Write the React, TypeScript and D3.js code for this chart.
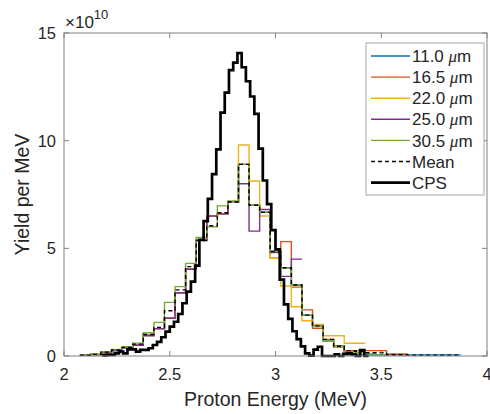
import React from "react";
import * as d3 from "d3";

// Wide-bin (0.05 MeV) series, bin centres (MeV)
const binCenters = [2.10, 2.15, 2.20, 2.25, 2.30, 2.35, 2.40, 2.45, 2.50, 2.55, 2.60, 2.65, 2.70, 2.75, 2.80, 2.85, 2.90, 2.95, 3.00, 3.05, 3.10, 3.15, 3.20, 3.25, 3.30, 3.35, 3.40, 3.45, 3.50, 3.55, 3.60, 3.65, 3.70, 3.75, 3.80, 3.85];

// values in units of 1e10 per MeV; null = no data
const s11_0 = [0.03, 0.07, 0.15, 0.25, 0.38, 0.5, 0.95, 1.27, 1.75, 2.94, 4.03, 5.4, 6.5, 6.6, 7.17, 8.9, 7.0, 6.7, 4.85, 4.1, 3.3, 1.9, 1.4, 0.7, 0.4, 0.05, 0.05, 0.05, 0.05, 0.05, 0.05, 0.05, 0.05, 0.05, 0.05, 0.05];
const s16_5 = [0.03, 0.07, 0.15, 0.25, 0.38, 0.5, 0.95, 1.27, 1.75, 2.94, 4.03, 5.4, 6.5, 6.6, 7.17, 8.9, 7.0, 6.7, 4.54, 5.31, 3.2, 2.14, 1.29, 0.77, 0.48, 0.25, 0.25, 0.25, 0.25, 0.09, 0.09, null, null, null, null, null];
const s22_0 = [0.03, 0.07, 0.15, 0.25, 0.38, 0.5, 0.95, 1.27, 1.75, 2.94, 4.03, 5.4, 6.5, 6.6, 7.17, 9.8, 8.13, 6.5, 4.54, 3.25, 2.29, 1.64, 1.47, 0.94, 0.94, 0.59, 0.59, null, null, null, null, null, null, null, null, null];
const s25_0 = [0.03, 0.07, 0.15, 0.25, 0.38, 0.5, 0.95, 1.27, 1.75, 2.94, 4.03, 5.4, 6.5, 6.6, 7.17, 8.0, 5.8, 6.8, 4.8, 3.7, 4.5, null, null, null, null, null, null, null, null, null, null, null, null, null, null, null];
const s30_5 = [0.04, 0.08, 0.2, 0.3, 0.43, 0.6, 1.08, 1.56, 2.49, 3.22, 4.3, 5.5, 6.0, 6.97, 7.2, 8.9, 7.0, 6.7, 4.85, 4.1, 3.3, 1.9, 1.4, 0.7, 0.4, 0.2, 0.15, 0.1, 0.05, null, null, null, null, null, null, null];
const meanVals = [0.035, 0.075, 0.18, 0.28, 0.4, 0.55, 1.0, 1.33, 2.1, 3.07, 4.15, 5.36, 6.05, 6.65, 7.15, 8.9, 7.0, 6.67, 4.85, 4.1, 3.3, 1.9, 1.4, 0.77, 0.45, 0.25, 0.22, 0.15, 0.15, 0.06, 0.06, 0.04, 0.04, 0.04, 0.04, 0.04];

// CPS (0.02 MeV bins), bin centres
const cpsEnergy = [2.19, 2.21, 2.23, 2.25, 2.27, 2.29, 2.31, 2.33, 2.35, 2.37, 2.39, 2.41, 2.43, 2.45, 2.47, 2.49, 2.51, 2.53, 2.55, 2.57, 2.59, 2.61, 2.63, 2.65, 2.67, 2.69, 2.71, 2.73, 2.75, 2.77, 2.79, 2.81, 2.83, 2.85, 2.87, 2.89, 2.91, 2.93, 2.95, 2.97, 2.99, 3.01, 3.03, 3.05, 3.07, 3.09, 3.11, 3.13, 3.15, 3.17, 3.19, 3.21, 3.23, 3.25, 3.27, 3.29, 3.31, 3.33, 3.35, 3.37, 3.39, 3.41, 3.43];
const cpsVals = [0.03, 0.05, 0.05, 0.12, 0.2, 0.12, 0.31, 0.31, 0.2, 0.28, 0.28, 0.36, 0.51, 0.66, 0.87, 1.13, 1.36, 1.59, 1.95, 2.45, 2.99, 3.45, 4.2, 5.39, 6.26, 7.3, 8.45, 9.6, 11.3, 12.23, 13.28, 13.62, 14.07, 13.41, 12.76, 12.05, 11.24, 9.63, 8.15, 7.05, 5.85, 4.95, 3.55, 2.4, 1.72, 1.15, 0.78, 0.45, 0.12, 0.02, 0.3, 0.43, 0, 0, 0, 0.08, 0, 0.1, 0.12, 0.08, 0, 0.27, 0];

const xTicks = [2, 2.5, 3, 3.5, 4];
const yTicks = [0, 5, 10, 15];

const seriesNames = ["11.0", "16.5", "22.0", "25.0", "30.5"];
const seriesColors = ["#0072BD", "#D95319", "#EDB120", "#7E2F8E", "#77AC30"];
const seriesData = [s11_0, s16_5, s22_0, s25_0, s30_5];

const W = 490, H = 414;
const L = 64, R = 487, T = 33, B = 356;
const FONT = "'Liberation Sans', Arial, Helvetica, sans-serif";

export default function App() {
  const x = d3.scaleLinear().domain([2, 4]).range([L, R]);
  const y = d3.scaleLinear().domain([0, 15]).range([B, T]);
  const line = d3.line<[number, number]>().x(d => x(d[0])).y(d => y(d[1])).curve(d3.curveStepAfter);

  const stepPath = (centers: number[], vals: (number | null)[], half: number) => {
    const pts: [number, number][] = [];
    let last: [number, number] | null = null;
    centers.forEach((c, i) => {
      const v = vals[i];
      if (v === null || v === undefined) return;
      pts.push([c - half, v]);
      last = [c + half, v];
    });
    if (last) pts.push(last);
    return line(pts) || "";
  };

  const axisColor = "#808080";
  const textColor = "#262626";
  const tickLen = 5;

  const legendRows = [
    ...seriesNames.map((n, i) => ({ label: n, color: seriesColors[i], dash: undefined as string | undefined, width: 1.4, mu: true })),
    { label: "Mean", color: "#000", dash: "4,3", width: 1.4, mu: false },
    { label: "CPS", color: "#000", dash: undefined, width: 2.7, mu: false },
  ];

  return (
    <svg width={W} height={H} style={{ position: "absolute", left: 0, top: 0, background: "#fff" }} fontFamily={FONT}>
      <rect x={0} y={0} width={W} height={H} fill="#fff" />
      {/* series */}
      <g fill="none" strokeLinejoin="miter">
        {seriesData.map((s, i) => (
          <path key={i} d={stepPath(binCenters, s, 0.025)} stroke={seriesColors[i]} strokeWidth={1.4} />
        ))}
        <path d={stepPath(binCenters, meanVals, 0.025)} stroke="#000" strokeWidth={1.4} strokeDasharray="4,3" />
        <path d={stepPath(cpsEnergy, cpsVals, 0.01)} stroke="#000" strokeWidth={2.7} />
      </g>
      {/* axes box */}
      <rect x={L} y={T} width={R - L} height={B - T} fill="none" stroke={axisColor} strokeWidth={1} />
      {xTicks.map(t => (
        <g key={"x" + t}>
          <line x1={x(t)} x2={x(t)} y1={B} y2={B - tickLen} stroke={axisColor} />
          <line x1={x(t)} x2={x(t)} y1={T} y2={T + tickLen} stroke={axisColor} />
          <text x={x(t)} y={380} fontSize={16.5} textAnchor="middle" fill={textColor}>{t}</text>
        </g>
      ))}
      {yTicks.map(t => (
        <g key={"y" + t}>
          <line x1={L} x2={L + tickLen} y1={y(t)} y2={y(t)} stroke={axisColor} />
          <line x1={R} x2={R - tickLen} y1={y(t)} y2={y(t)} stroke={axisColor} />
          <text x={56} y={y(t)} dy="0.36em" fontSize={16.5} textAnchor="end" fill={textColor}>{t}</text>
        </g>
      ))}
      {/* exponent */}
      <text x={65} y={28} fontSize={17} fill={textColor}>×10<tspan dy={-9} fontSize={13}>10</tspan></text>
      {/* axis labels */}
      <text x={(L + R) / 2} y={406} fontSize={19.5} textAnchor="middle" fill={textColor}>Proton Energy (MeV)</text>
      <text transform={`translate(29,${(T + B) / 2}) rotate(-90)`} fontSize={19.5} textAnchor="middle" fill={textColor}>Yield per MeV</text>
      {/* legend */}
      <rect x={366} y={43} width={118} height={152} fill="#fff" stroke="#a6a6a6" strokeWidth={1} />
      {legendRows.map((r, i) => {
        const ly = 56 + i * 21.1;
        return (
          <g key={"lg" + i}>
            <line x1={371} x2={410} y1={ly} y2={ly} stroke={r.color} strokeWidth={r.width} strokeDasharray={r.dash} />
            <text x={412} y={ly} dy="0.36em" fontSize={17} fill={textColor}>
              {r.label}
              {r.mu ? <tspan> </tspan> : null}
              {r.mu ? <tspan fontStyle="italic" fontFamily="'Liberation Serif', 'Times New Roman', serif">μ</tspan> : null}
              {r.mu ? <tspan>m</tspan> : null}
            </text>
          </g>
        );
      })}
    </svg>
  );
}
